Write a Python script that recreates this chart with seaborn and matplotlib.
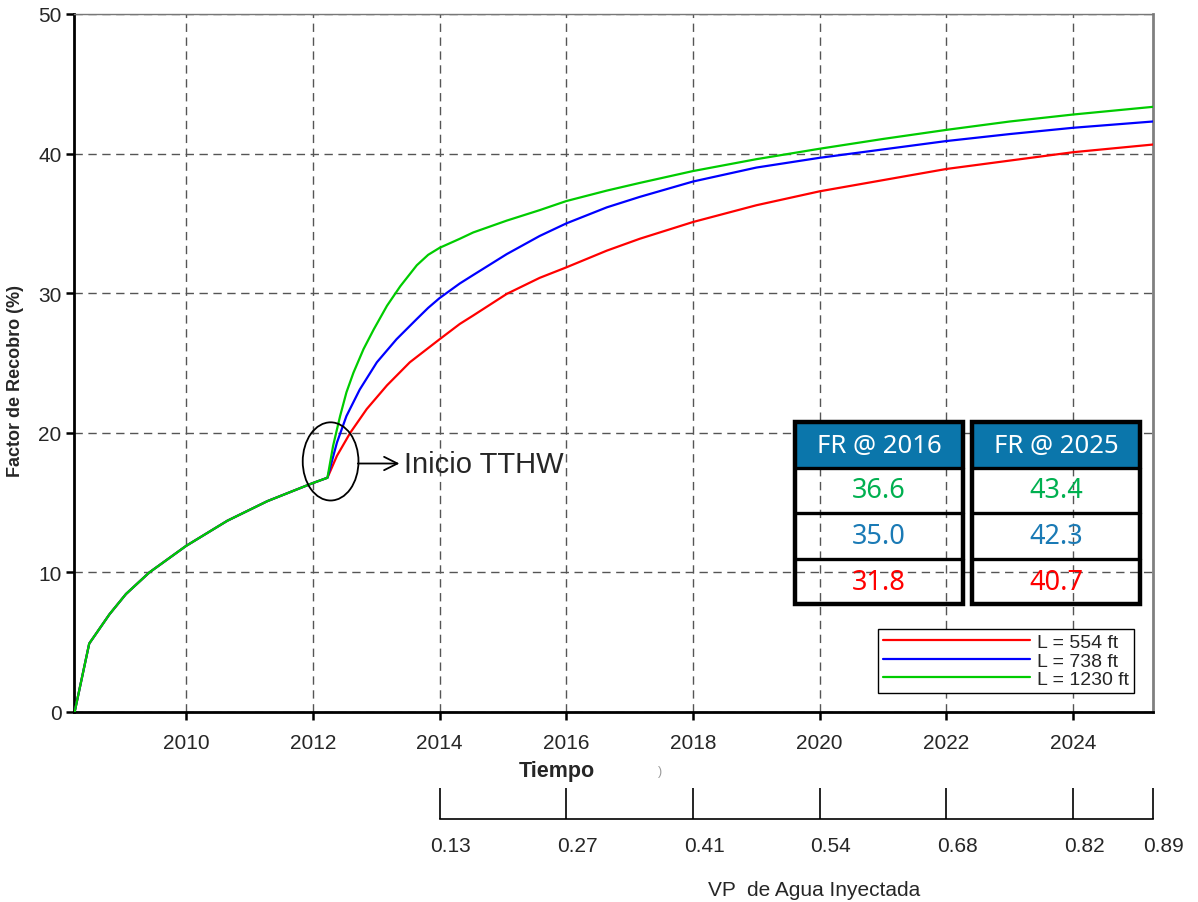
import pandas as pd
import seaborn as sns
import matplotlib.pyplot as plt
import matplotlib.transforms as mtransforms
from matplotlib.patches import Rectangle, Ellipse

# Datos (tramo comun antes de TTHW)
base_years = [2008.24, 2008.47, 2008.79, 2009.05, 2009.42, 2010.0, 2010.65, 2011.28, 2012.0, 2012.23]
base_fr = [0.0, 4.9, 7.0, 8.45, 10.0, 11.9, 13.7, 15.1, 16.4, 16.78]

# despues de TTHW
years_554 = [2012.38, 2012.59, 2012.85, 2013.17, 2013.53, 2014.0, 2014.32, 2014.53, 2015.06, 2015.58,
             2016, 2016.64, 2017.16, 2018, 2019, 2020, 2021, 2022, 2023, 2024, 2025.26]
fr_554 = [18.35, 20.0, 21.7, 23.4, 25.05, 26.7, 27.8, 28.4, 29.95, 31.1,
          31.85, 33.05, 33.9, 35.1, 36.3, 37.3, 38.1, 38.9, 39.5, 40.1, 40.65]

years_738 = [2012.38, 2012.53, 2012.74, 2013.01, 2013.32, 2013.64, 2013.82, 2014.0, 2014.32, 2014.53,
             2015.06, 2015.58, 2016, 2016.64, 2017.16, 2018, 2019, 2020, 2021, 2022, 2023, 2024, 2025.26]
fr_738 = [19.3, 21.2, 23.1, 25.05, 26.7, 28.15, 28.95, 29.65, 30.7, 31.3,
          32.8, 34.1, 35.0, 36.15, 36.9, 38.0, 39.0, 39.7, 40.3, 40.9, 41.4, 41.85, 42.3]

years_1230 = [2012.32, 2012.43, 2012.53, 2012.64, 2012.80, 2012.96, 2013.17, 2013.38, 2013.64, 2013.82,
              2014.0, 2014.32, 2014.53, 2015.06, 2015.58, 2016, 2016.64, 2017.16, 2018, 2019, 2020,
              2021, 2022, 2023, 2024, 2025.26]
fr_1230 = [19.08, 21.2, 22.9, 24.3, 26.0, 27.4, 29.1, 30.5, 32.0, 32.75,
           33.25, 33.9, 34.35, 35.2, 35.95, 36.6, 37.35, 37.9, 38.75, 39.6, 40.35,
           41.05, 41.7, 42.3, 42.8, 43.35]

series_names = ['L = 554 ft', 'L = 738 ft', 'L = 1230 ft']
series_colors = ['#ff0000', '#0000ff', '#00cc00']

year_ticks = [2010, 2012, 2014, 2016, 2018, 2020, 2022, 2024]
vp_ticks = [2014, 2016, 2018, 2020, 2022, 2024, 2025.26]
vp_labels = ['0.13', '0.27', '0.41', '0.54', '0.68', '0.82', '0.89']

table_headers = ['FR @ 2016', 'FR @ 2025']
fr_2016 = ['36.6', '35.0', '31.8']
fr_2025 = ['43.4', '42.3', '40.7']
table_colors = ['#00b050', '#1a7ab5', '#ff0000']

# tabla larga para seaborn
rows = []
for name, yrs, vals in zip(series_names, [years_554, years_738, years_1230], [fr_554, fr_738, fr_1230]):
    for x, y in zip(base_years + yrs, base_fr + vals):
        rows.append((name, x, y))
df = pd.DataFrame(rows, columns=['caso', 'anio', 'fr'])

sns.set_style('white')
plt.rcParams['font.family'] = ['Liberation Sans', 'DejaVu Sans']

W, H = 1198, 903
fig = plt.figure(figsize=(W / 100, H / 100), dpi=100)
ax = fig.add_axes([74 / W, 1 - 713 / H, 1079 / W, 698 / H])

sns.lineplot(data=df, x='anio', y='fr', hue='caso', palette=dict(zip(series_names, series_colors)),
             estimator=None, sort=False, linewidth=1.6, legend=False, ax=ax, zorder=3)

ax.set_xlim(2008.23, 2025.26)
ax.set_ylim(0, 50)
ax.set_xticks(year_ticks)
ax.set_yticks([0, 10, 20, 30, 40, 50])
ax.tick_params(axis='both', direction='out', length=6, width=1.8, color='black', labelsize=15,
               bottom=True, left=True, pad=3)
ax.tick_params(axis='x', pad=9)
ax.grid(True, linestyle=(0, (6, 4)), color='#555555', linewidth=1)
ax.set_axisbelow(True)
for s in ['left', 'bottom']:
    ax.spines[s].set_color('black')
    ax.spines[s].set_linewidth(2)
ax.spines['top'].set_color('#777777')
ax.spines['top'].set_linewidth(1)
ax.spines['right'].set_color('#808080')
ax.spines['right'].set_linewidth(2)

ax.set_ylabel('Factor de Recobro (%)', fontsize=13, fontweight='bold', labelpad=10)
ax.yaxis.label.set_y((713 - 381) / 698)
ax.set_xlabel('Tiempo', fontsize=15.5, fontweight='bold', labelpad=6)
ax.xaxis.label.set_x((557 - 74) / 1079)
fig.text(660 / W, 1 - 772 / H, ')', fontsize=9, color='#999999', ha='center', va='center')

# leyenda
handles = ax.get_lines()[:3]
leg = ax.legend(handles, series_names, loc='lower right', bbox_to_anchor=(1134 / W, 1 - 694 / H),
                bbox_transform=fig.transFigure, fontsize=14, handlelength=7.6, handletextpad=0.35,
                labelspacing=0.05, borderpad=0.25, borderaxespad=0, fancybox=False, framealpha=1)
leg.get_frame().set_edgecolor('black')
leg.get_frame().set_linewidth(1)

# elipse y flecha de inicio TTHW
ax.add_patch(Ellipse((2012.28, 17.95), 0.88, 5.6, fill=False, edgecolor='black', linewidth=1.3, zorder=4))
ax.annotate('Inicio TTHW', xy=(2012.71, 17.8), xytext=(2013.44, 17.8), fontsize=21, va='center',
            arrowprops=dict(arrowstyle='<-', color='black', lw=1.3, shrinkA=1, shrinkB=0,
                            mutation_scale=24))

# eje secundario VP
ax2 = fig.add_axes([74 / W, 1 - 820 / H, 1079 / W, 0.0001])
ax2.set_xlim(ax.get_xlim())
ax2.set_yticks([])
for s in ['left', 'right', 'top']:
    ax2.spines[s].set_visible(False)
ax2.spines['bottom'].set_color('black')
ax2.spines['bottom'].set_linewidth(1.2)
ax2.spines['bottom'].set_bounds(vp_ticks[0], vp_ticks[-1])
ax2.set_xticks(vp_ticks)
ax2.set_xticklabels(vp_labels)
ax2.tick_params(axis='x', direction='in', length=22, width=1.2, color='black', labelsize=15,
                bottom=True, pad=12)
shift = mtransforms.ScaledTranslation(0.11, 0, fig.dpi_scale_trans)
for lbl in ax2.get_xticklabels():
    lbl.set_transform(lbl.get_transform() + shift)
ax2.set_xlabel('VP  de Agua Inyectada', fontsize=15, labelpad=18)
ax2.xaxis.label.set_x((814 - 74) / 1079)
ax2.patch.set_visible(False)

# tablas FR
def fx(x):
    return x / W

def fy(y):
    return 1 - y / H

row_y = [469, 514, 560, 605]
for left, header, vals in zip([795, 972], table_headers, [fr_2016, fr_2025]):
    right = left + 168
    fig.add_artist(Rectangle((fx(left), fy(468)), fx(right) - fx(left), fy(425) - fy(468),
                             transform=fig.transFigure, facecolor='#0b76ab', edgecolor='none'))
    fig.add_artist(Rectangle((fx(left), fy(605)), fx(right) - fx(left), fy(423) - fy(605),
                             transform=fig.transFigure, facecolor='none', edgecolor='black', linewidth=3.2))
    for yy in row_y[:3]:
        fig.add_artist(plt.Line2D([fx(left), fx(right)], [fy(yy), fy(yy)], transform=fig.transFigure,
                                  color='black', linewidth=2.4))
    cx = fx((left + right) / 2)
    fig.text(cx, fy(447), header, color='white', fontsize=18.5, ha='center', va='center',
             family=['Noto Sans', 'DejaVu Sans'], fontweight='semibold')
    for i, (v, c) in enumerate(zip(vals, table_colors)):
        fig.text(cx, fy((row_y[i] + row_y[i + 1]) / 2), v, color=c, fontsize=19.5, ha='center',
                 va='center', family=['Noto Sans', 'DejaVu Sans'], fontweight='semibold')

fig.savefig('out.png', dpi=100)
